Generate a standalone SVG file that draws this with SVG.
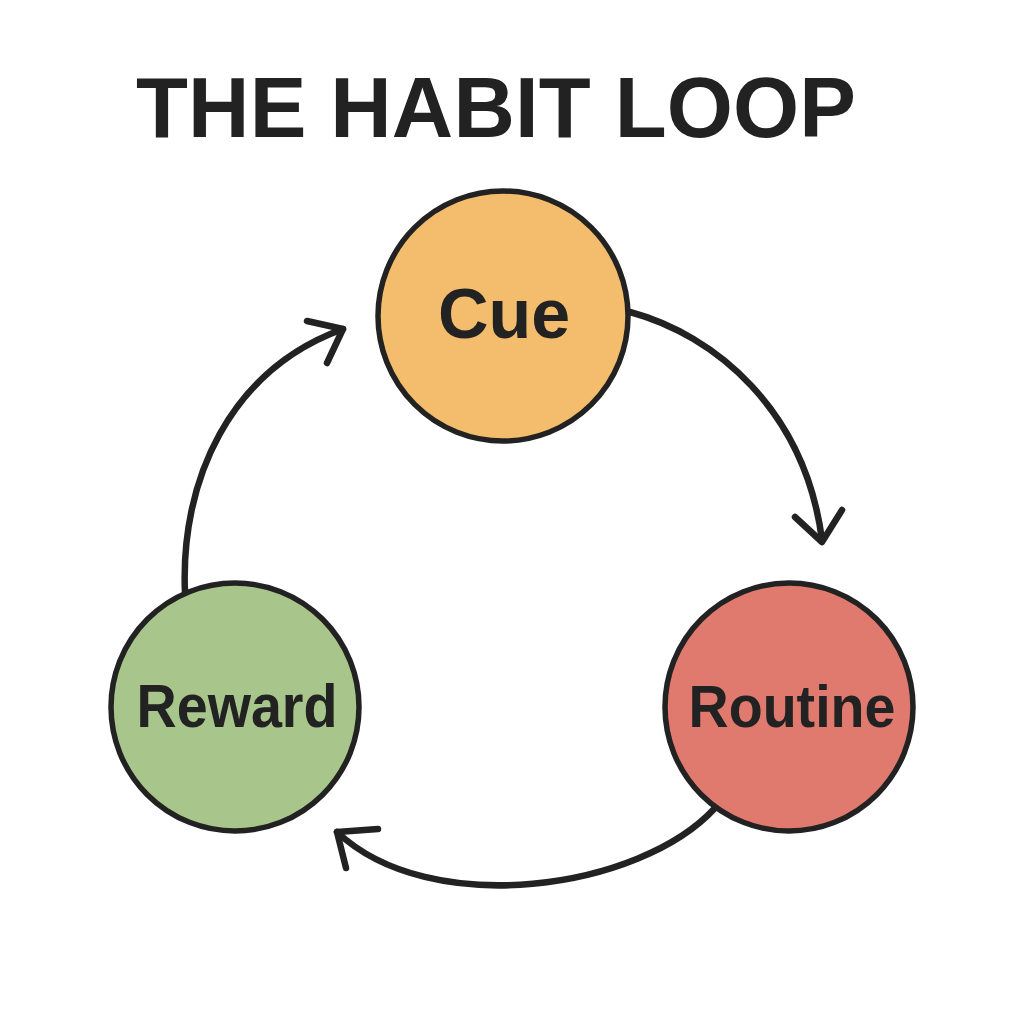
<svg xmlns="http://www.w3.org/2000/svg" width="1023" height="1023" viewBox="0 0 1023 1023">
  <style>
    .node { stroke: #222; stroke-width: 5.5; }
    .label { font-family: "Liberation Sans", Arial, sans-serif; font-weight: bold; fill: #222; text-anchor: middle; }
    .conn { fill: none; stroke: #222; stroke-width: 6.5; stroke-linecap: round; stroke-linejoin: round; }
  </style>
  <rect width="1023" height="1023" fill="#ffffff"/>
  <text id="title" class="label" x="496" y="137" font-size="85" textLength="720" lengthAdjust="spacing">THE HABIT LOOP</text>
  <g id="connectors">
    <path class="conn" d="M630,312 C715,335 805,410 822,540"/>
    <polyline class="conn" points="795,517 822,542 842,510"/>
    <path class="conn" d="M715,808 C640,890 430,920 337,832"/>
    <polyline class="conn" points="378,829 337,832 346,868"/>
    <path class="conn" d="M185,593 C180,480 230,370 343,329"/>
    <polyline class="conn" points="307,321 343,329 327,363"/>
  </g>
  <g id="cue">
    <circle class="node" cx="503" cy="316" r="125" fill="#F3BD6D"/>
    <text class="label" x="504" y="338" font-size="70">Cue</text>
  </g>
  <g id="routine">
    <circle class="node" cx="789" cy="707" r="124" fill="#E07A6F"/>
    <text class="label" x="792" y="727" font-size="60" textLength="207" lengthAdjust="spacingAndGlyphs">Routine</text>
  </g>
  <g id="reward">
    <circle class="node" cx="235" cy="707" r="124" fill="#A8C68B"/>
    <text class="label" x="237" y="727" font-size="62" textLength="201" lengthAdjust="spacingAndGlyphs">Reward</text>
  </g>
</svg>
